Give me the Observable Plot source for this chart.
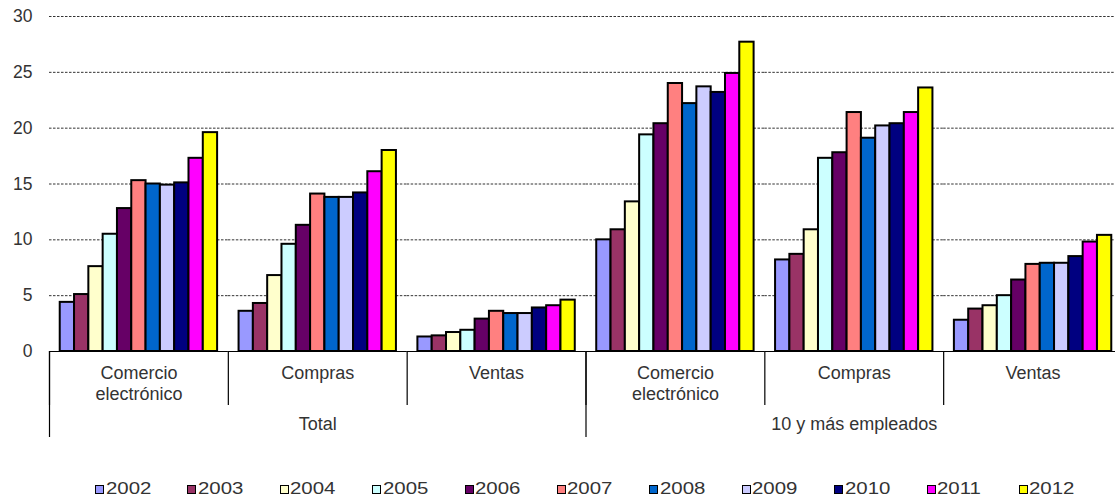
<!DOCTYPE html>
<html>
<head>
<meta charset="utf-8">
<script src="https://cdn.jsdelivr.net/npm/d3@7"></script>
<script src="https://cdn.jsdelivr.net/npm/@observablehq/plot@0.6"></script>
<style>
  html, body { margin: 0; padding: 0; background: #fff; overflow: hidden; width: 1115px; height: 501px; }
  #chart { width: 1115px; height: 470px; overflow: hidden; }
  #chart svg { display: block; max-width: none !important; }
  #legend { display: flex; height: 31px; box-sizing: border-box; padding-top: 7px; align-items: center; padding-left: 95px; font-family: "Liberation Sans", Arial, sans-serif; font-size: 17px; color: #333; }
  .item { flex: 0 0 92.4px; display: flex; align-items: center; }
  .sw { width: 9px; height: 9px; box-sizing: border-box; border: 1.6px solid #000; margin-right: 1.5px; }
  .lb { display: inline-block; transform: scaleX(1.2); transform-origin: left center; }
</style>
</head>
<body>
<div id="chart"></div>
<div id="legend"></div>
<script>
// ---- data ----
const years = ["2002", "2003", "2004", "2005", "2006", "2007", "2008", "2009", "2010", "2011", "2012"];
const yearColors = ["#9999FF", "#993366", "#FFFFCC", "#CCFFFF", "#660066", "#FF8080", "#0066CC", "#CCCCFF", "#000080", "#FF00FF", "#FFFF00"];
const groups = ["Total", "10 y más empleados"];
const categories = ["Comercio\nelectrónico", "Compras", "Ventas"];
const yTicks = [0, 5, 10, 15, 20, 25, 30];

const totalComercio = [4.4, 5.1, 7.6, 10.5, 12.8, 15.3, 15.0, 14.9, 15.1, 17.3, 19.6];
const totalCompras  = [3.6, 4.3, 6.8, 9.6, 11.3, 14.1, 13.8, 13.8, 14.2, 16.1, 18.0];
const totalVentas   = [1.3, 1.4, 1.7, 1.9, 2.9, 3.6, 3.4, 3.4, 3.9, 4.1, 4.6];
const emp10Comercio = [10.0, 10.9, 13.4, 19.4, 20.4, 24.0, 22.2, 23.7, 23.2, 24.9, 27.7];
const emp10Compras  = [8.2, 8.7, 10.9, 17.3, 17.8, 21.4, 19.1, 20.2, 20.4, 21.4, 23.6];
const emp10Ventas   = [2.8, 3.8, 4.1, 5.0, 6.4, 7.8, 7.9, 7.9, 8.5, 9.8, 10.4];

const seriesByGroup = [
  [totalComercio, totalCompras, totalVentas],
  [emp10Comercio, emp10Compras, emp10Ventas]
];

// ---- build table ----
const facetKeys = [];
const facetInfo = [];
groups.forEach((g, gi) => categories.forEach((c, ci) => {
  const key = g + "|" + c;
  facetKeys.push(key);
  facetInfo.push({key, group: g, cat: c, first: ci === 0, middle: ci === 1});
}));
const rows = [];
groups.forEach((g, gi) => categories.forEach((c, ci) => {
  seriesByGroup[gi][ci].forEach((v, yi) => {
    rows.push({key: g + "|" + c, year: years[yi], i: yi, value: v});
  });
}));

// ---- layout/style ----
const W = 1122, H = 470;
const mTop = 16, mBottom = 119, mLeft = 49, mRight = 0;
const frameH = H - mTop - mBottom;
const pad = 0.75;
const xDomain = [-pad, years.length + pad];
const font = "Liberation Sans, Arial, sans-serif";

const chart = Plot.plot({
  width: W,
  height: H,
  marginTop: mTop,
  marginBottom: mBottom,
  marginLeft: mLeft,
  marginRight: mRight,
  style: {fontFamily: font, fontSize: "17px", color: "#333", background: "white", overflow: "visible"},
  fx: {domain: facetKeys, padding: 0, round: false, axis: null, label: null},
  x: {domain: xDomain, axis: null},
  y: {domain: [0, 30], axis: null},
  color: {type: "ordinal", domain: years, range: yearColors},
  marks: [
    Plot.gridY(yTicks.filter(d => d > 0), {stroke: "#333", strokeOpacity: 1, strokeWidth: 1, strokeDasharray: "2.5,1.5"}),
    Plot.axisY(yTicks, {tickSize: 0, tickPadding: 17, fontSize: 17.5, fill: "#333", label: null}),
    Plot.rect(rows, {fx: "key", x1: "i", x2: d => d.i + 1, y1: 0, y2: "value", fill: "year", stroke: "#000", strokeWidth: 2}),
    Plot.ruleY([0], {stroke: "#000", strokeWidth: 1.2}),
    Plot.ruleX(facetKeys, {fx: d => d, x: xDomain[0], stroke: "#000", strokeWidth: 1.2, insetTop: frameH, insetBottom: -54}),
    Plot.ruleX(facetInfo.filter(d => d.first), {fx: "key", x: xDomain[0], stroke: "#000", strokeWidth: 1.2, insetTop: frameH, insetBottom: -86}),
    Plot.text(facetInfo, {fx: "key", text: "cat", frameAnchor: "bottom", lineAnchor: "top", dy: 12, lineHeight: 1.18, fontSize: 18, fill: "#333"}),
    Plot.text(facetInfo.filter(d => d.middle), {fx: "key", text: "group", frameAnchor: "bottom", lineAnchor: "top", dy: 66, fontSize: 18, fill: "#333"})
  ]
});
document.getElementById("chart").appendChild(chart);

// ---- legend ----
const legend = document.getElementById("legend");
years.forEach((y, i) => {
  const item = document.createElement("div");
  item.className = "item";
  const sw = document.createElement("span");
  sw.className = "sw";
  sw.style.background = yearColors[i];
  const lb = document.createElement("span");
  lb.className = "lb";
  lb.textContent = y;
  item.appendChild(sw);
  item.appendChild(lb);
  legend.appendChild(item);
});
</script>
</body>
</html>
